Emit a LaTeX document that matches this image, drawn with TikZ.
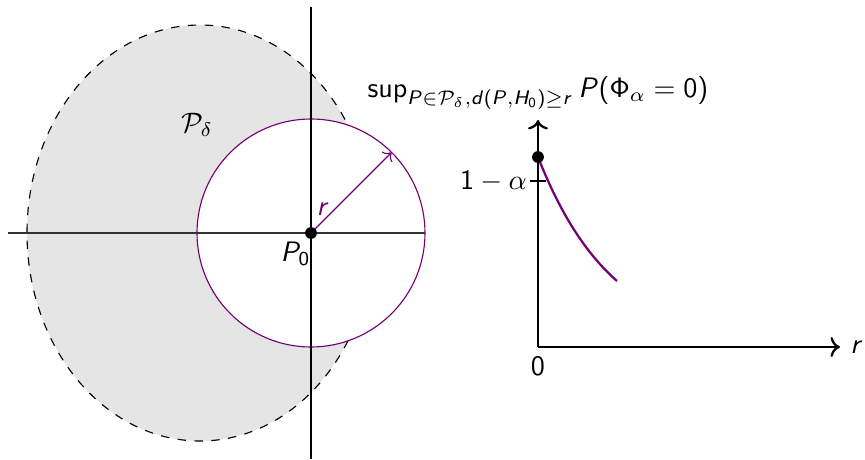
\documentclass[tikz,border=0pt]{standalone}
\usepackage{amsmath}
\usetikzlibrary{arrows.meta, positioning, calc}
% sans serif math in the beamer manner: Latin letters, digits and operators from cmss
\DeclareSymbolFont{operators}{OT1}{cmss}{m}{n}
\SetSymbolFont{operators}{normal}{OT1}{cmss}{m}{n}
\DeclareSymbolFont{sfletters}{OT1}{cmss}{m}{sl}
\DeclareMathSymbol{P}{\mathalpha}{sfletters}{`P}
\DeclareMathSymbol{H}{\mathalpha}{sfletters}{`H}
\DeclareMathSymbol{d}{\mathalpha}{sfletters}{`d}
\DeclareMathSymbol{r}{\mathalpha}{sfletters}{`r}

\begin{document}
\begin{tikzpicture}[
		font=\sffamily,
		region/.style={fill=gray!20, draw=black, dashed, thin},
		ball/.style={fill=white, draw=violet!90!black, thin},
		radius/.style={->, violet!90!black, thin},
		axis/.style={->, black, thick},
		curve/.style={violet!90!black, thick},
		dot/.style={circle, fill=black, inner sep=0pt, minimum size=4.2pt}
		]
		\useasboundingbox (-3.8875,-2.825) rectangle (6.925,2.9125);
		
		% Draw the set of alternatives and the ball around P_0
		\filldraw[region] (-1.3875,0) ellipse (2.1625 and 2.6);
		\node (Pdelta) at (-1.425,1.35) {$\mathcal{P}_\delta$};
		\draw[ball] (0,0) circle (1.425);
		
		% Axes through P_0
		\coordinate (P0) at (0,0);
		\coordinate (hleft) at (-3.7875,0);
		\coordinate (hright) at (1.425,0);
		\coordinate (vtop) at (0,2.825);
		\coordinate (vbot) at (0,-2.825);
		\draw[black!80] (hleft) -- (hright);
		\draw (vtop) -- (vbot);
		
		% Radius arrow
		\coordinate (R) at (45:1.425);
		\draw[radius] (P0) -- (R) node[pos=0.27, above left, yshift=-2.8pt, inner sep=1pt, text=violet!90!black] {$r$};
		\node[dot] (P0dot) at (P0) {};
		\node[below left=-2pt and -5pt of P0dot] (P0label) {$P_0$};
		
		% The power curve plot
		\coordinate (O) at (2.8375,-1.425);
		\coordinate (xend) at (6.6125,-1.425);
		\coordinate (yend) at (2.8375,1.4125);
		\draw[axis] (O) -- (xend) node[right] (xlabel) {$r$};
		\draw[axis] (O) -- (yend) node[above] (ylabel) {$\sup_{P\in\mathcal{P}_\delta, d(P,H_0)\geq r} P(\Phi_\alpha = 0)$};
		\node[below] (zero) at (O) {$0$};
		
		% Level 1-alpha
		\coordinate (tick) at (2.8375,0.65);
		\draw ($(tick)+(-0.1,0)$) -- ($(tick)+(0.1,0)$) node[pos=0, left, inner sep=1pt] (level) {$1-\alpha$};
		
		\draw[curve] plot[domain=0:0.9875, samples=40] ({2.8375+\x},{-1.425+2.375*exp(-1.071*\x)});
		\node[dot] (start) at (2.8375,0.95) {};
		
	\end{tikzpicture}
\end{document}
